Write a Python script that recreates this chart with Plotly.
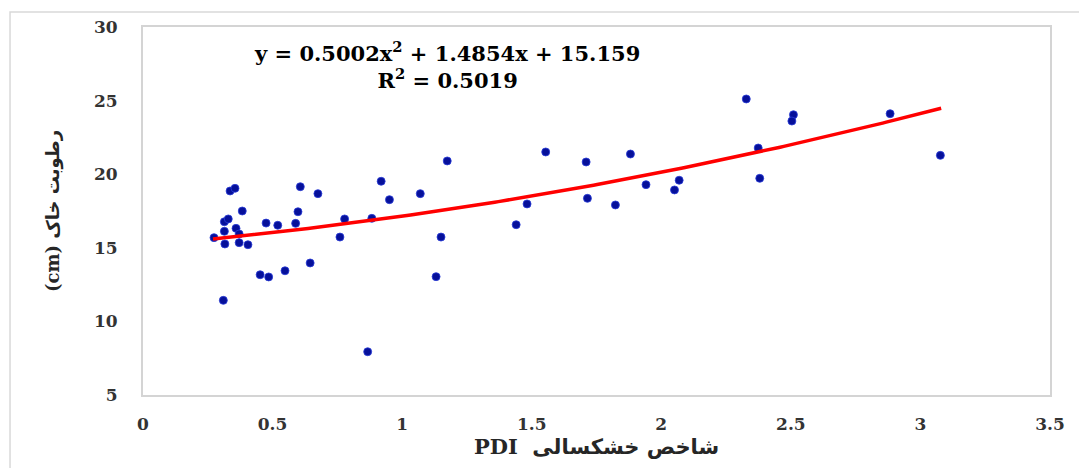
import numpy as np
import plotly.graph_objects as go

# ---- data ----
pdi = [0.274, 0.316, 0.314, 0.314, 0.329, 0.336, 0.355, 0.359, 0.371, 0.371,
       0.383, 0.405, 0.310, 0.452, 0.485, 0.475, 0.520, 0.548, 0.589, 0.598,
       0.607, 0.675, 0.645, 0.760, 0.778, 0.883, 0.919, 0.951, 1.070, 1.174,
       1.150, 1.131, 0.867, 1.440, 1.482, 1.554, 1.710, 1.715, 1.823, 1.881,
       1.941, 2.051, 2.069, 2.328, 2.510, 2.504, 2.374, 2.380, 2.883, 3.077]
soil_moisture = [15.69, 15.26, 16.12, 16.77, 16.96, 18.86, 19.04, 16.32, 15.94, 15.35,
                 17.50, 15.21, 11.43, 13.17, 13.02, 16.68, 16.53, 13.44, 16.66, 17.45,
                 19.15, 18.68, 13.97, 15.73, 16.96, 17.00, 19.52, 18.27, 18.68, 20.90,
                 15.73, 13.04, 7.94, 16.57, 17.98, 21.51, 20.83, 18.36, 17.91, 21.37,
                 19.29, 18.93, 19.59, 25.11, 24.04, 23.61, 21.78, 19.72, 24.11, 21.28]

# trendline printed on the chart: y = 0.5002x^2 + 1.4854x + 15.159
trend_coef = [0.5002, 1.4854, 15.159]
trend_range = [0.27, 3.08]
equation_lines = ["y = 0.5002x<sup>2</sup> + 1.4854x + 15.159", "R<sup>2</sup> = 0.5019"]

x_ticks = [0, 0.5, 1, 1.5, 2, 2.5, 3, 3.5]
x_tick_labels = ["0", "0.5", "1", "1.5", "2", "2.5", "3", "3.5"]
y_ticks = [5, 10, 15, 20, 25, 30]
y_tick_labels = ["5", "10", "15", "20", "25", "30"]

x_title_latin = "PDI"
x_title_persian = "شاخص خشکسالی"
y_title_latin = "(cm)"
y_title_persian = "رطوبت خاک"

# ---- figure ----
tx = np.linspace(trend_range[0], trend_range[1], 200)
ty = np.polyval(trend_coef, tx)

fig = go.Figure()
fig.add_trace(go.Scatter(
    x=pdi, y=soil_moisture, mode="markers",
    marker=dict(size=8, color="#06109a", line=dict(width=0.8, color="#2a3cd8")),
    showlegend=False, hoverinfo="x+y"))
fig.add_trace(go.Scatter(
    x=tx, y=ty, mode="lines",
    line=dict(color="#ff0000", width=3.5),
    showlegend=False, hoverinfo="skip"))

tick_font = dict(family="DejaVu Serif", size=17, color="#333333", weight="bold")
title_font = dict(family="DejaVu Sans", size=21, color="#262626", weight="bold")

x_title = ("<span style='font-family:DejaVu Serif;font-size:21px'>" + x_title_latin +
           "</span>  " + x_title_persian)
y_title = ("<span style='font-family:DejaVu Serif'>" + y_title_latin +
           "</span> " + y_title_persian)

fig.update_layout(
    width=1079, height=468,
    margin=dict(l=143, r=29, t=27, b=73, autoexpand=False),
    paper_bgcolor="white", plot_bgcolor="white",
    xaxis=dict(range=[0, 3.5], tickvals=x_ticks, ticktext=x_tick_labels,
               showgrid=False, zeroline=False, showline=True, mirror=True,
               linecolor="#d4d4d4", linewidth=2, ticks="", tickfont=tick_font,
               ticklabelstandoff=13,
               title=dict(text=x_title, font=title_font, standoff=1)),
    yaxis=dict(range=[5, 30], tickvals=y_ticks, ticktext=y_tick_labels,
               showgrid=False, zeroline=False, showline=True, mirror=True,
               linecolor="#d4d4d4", linewidth=2, ticks="", tickfont=tick_font,
               ticklabelstandoff=20,
               title=dict(text=y_title, font=dict(family="DejaVu Sans", size=18,
                                                  color="#262626", weight="bold"),
                          standoff=30)),
    annotations=[dict(
        x=1.173, y=27.38, xref="x", yref="y",
        text="<br>".join(equation_lines), showarrow=False,
        xanchor="center", yanchor="middle", align="center",
        font=dict(family="DejaVu Serif", size=21, color="black", weight="bold"))],
    shapes=[dict(type="rect", xref="paper", yref="paper",
                 x0=-0.1466, x1=1.035, y0=-0.4, y1=1.0408,
                 line=dict(color="#d9d9d9", width=1.5), layer="below")],
)

fig.write_html("out.html", config={"displayModeBar": False},
               post_script="document.body.style.margin='0px';")
